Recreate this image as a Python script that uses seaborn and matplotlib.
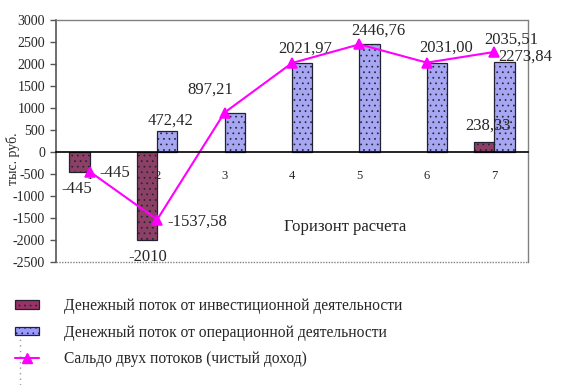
import numpy as np
import pandas as pd
import matplotlib
matplotlib.use("Agg")
import matplotlib.pyplot as plt
from matplotlib.patches import Patch
from matplotlib.lines import Line2D
import seaborn as sns

# ---------------- data ----------------
categories = ["1", "2", "3", "4", "5", "6", "7"]
invest = [-445, -2010, np.nan, np.nan, np.nan, np.nan, 238.33]
operating = [np.nan, 472.42, 897.21, 2021.97, 2446.76, 2031.00, 2035.51]
net = [-445, -1537.58, 897.21, 2021.97, 2446.76, 2031.00, 2273.84]

invest_labels = ["-445", "-2010", None, None, None, None, "238,33"]
operating_labels = [None, "472,42", None, None, None, None, "2035,51"]
net_labels = ["-445", "-1537,58", "897,21", "2021,97", "2446,76", "2031,00", "2273,84"]

series_names = ["Денежный поток от инвестиционной деятельности",
                "Денежный поток от операционной деятельности"]
line_name = "Сальдо двух потоков (чистый доход)"
x_title = "Горизонт расчета"
y_title = "тыс. руб."
y_ticks = list(range(-2500, 3001, 500))

# ---------------- style ----------------
c_inv = "#993366"
c_op = "#9999FF"
c_line = "#FF00FF"

sns.set_style("white")
plt.rcParams["font.family"] = ["Liberation Serif", "DejaVu Serif"]
plt.rcParams["axes.unicode_minus"] = False
plt.rcParams["hatch.linewidth"] = 0.5

df = pd.DataFrame({
    "cat": categories * 2,
    "value": invest + operating,
    "series": [series_names[0]] * len(categories) + [series_names[1]] * len(categories),
})

fig = plt.figure(figsize=(5.73, 3.85), dpi=100)
ax = fig.add_axes([56 / 573, 1 - 262 / 385, (528 - 56) / 573, (262 - 20) / 385])

sns.barplot(data=df, x="cat", y="value", hue="series", hue_order=series_names,
            order=categories, palette=[c_inv, c_op], width=0.6, dodge=True,
            edgecolor="#222233", linewidth=0.9, hatch="...", legend=False, ax=ax,
            errorbar=None)
sns.pointplot(x=categories, y=net, order=categories, color=c_line, marker="^",
              markersize=7, linewidth=1.5, errorbar=None, ax=ax)

ax.set_xlim(-0.5, len(categories) - 0.5)
ax.set_ylim(y_ticks[0], y_ticks[-1])
ax.set_yticks(y_ticks)
ax.set_yticklabels([str(v) for v in y_ticks])
ax.set_xlabel("")
ax.set_ylabel("")

# x axis at zero with boundary ticks, labels at category centers
ax.spines["bottom"].set_position(("data", 0))
ax.spines["bottom"].set_color("black")
ax.spines["bottom"].set_linewidth(1.2)
ax.set_xticks(np.arange(len(categories) + 1) - 0.5)
ax.set_xticklabels([])
ax.set_xticks(np.arange(len(categories)), minor=True)
ax.set_xticklabels(categories, minor=True)
ax.tick_params(axis="x", which="major", direction="inout", length=7, width=1, color="black")
ax.tick_params(axis="x", which="minor", length=0, pad=13, labelsize=9)
ax.tick_params(axis="y", direction="out", length=4, width=1, color="#555555",
               pad=4, labelsize=10, left=True)

ax.spines["left"].set_color("#555555")
ax.spines["left"].set_linewidth(1.2)
for s in ["top", "right"]:
    ax.spines[s].set_color("#808080")
    ax.spines[s].set_linestyle((0, (1, 1)))
    ax.spines[s].set_linewidth(1)
ax.plot([0, 1], [0, 0], transform=ax.transAxes, color="#808080",
        linestyle=(0, (1, 1)), linewidth=1, clip_on=False)

# data labels
inv_off = [(-3, -17), (1, -17), None, None, None, None, (4, 16)]
op_off = [None, (3, 11), None, None, None, None, (17, 12)]
net_off = [(25, -1), (40, -2), (-14, 23), (13, 14), (19, 14), (19, 15), (31, -5)]
bar_w = 0.3
for i in range(len(categories)):
    if invest_labels[i] is not None:
        ax.annotate(invest_labels[i], (i - bar_w / 2, invest[i]), textcoords="offset pixels",
                    xytext=inv_off[i], ha="center", va="center", fontsize=12)
    if operating_labels[i] is not None:
        if i == len(categories) - 1:
            ax.annotate(operating_labels[i], (i, net[i]), textcoords="offset pixels",
                        xytext=op_off[i], ha="center", va="center", fontsize=12)
        else:
            ax.annotate(operating_labels[i], (i + bar_w / 2, operating[i]), textcoords="offset pixels",
                        xytext=op_off[i], ha="center", va="center", fontsize=12)
    ax.annotate(net_labels[i], (i, net[i]), textcoords="offset pixels",
                xytext=net_off[i], ha="center", va="center", fontsize=12)

fig.text(345 / 573, 1 - 227 / 385, x_title, ha="center", va="center", fontsize=12)
fig.text(13 / 573, 1 - 159 / 385, y_title, ha="center", va="center", rotation=90, fontsize=10)

handles = [
    Patch(facecolor=c_inv, edgecolor="#222233", hatch="...", linewidth=0.9),
    Patch(facecolor=c_op, edgecolor="#222233", hatch="...", linewidth=0.9),
    Line2D([], [], color=c_line, marker="^", markersize=7, linewidth=1.5),
]
fig.legend(handles, series_names + [line_name], loc="upper left",
           bbox_to_anchor=(15 / 573, 1 - 298 / 385), frameon=False, fontsize=11.2,
           handlelength=1.55, handleheight=0.5, handletextpad=1.6, labelspacing=0.68,
           borderpad=0, borderaxespad=0, numpoints=1)

fig.lines.append(Line2D([20 / 573, 20 / 573], [0, 1 - 337 / 385], transform=fig.transFigure,
                        color="#999999", linestyle=(0, (1, 3)), linewidth=1))

fig.savefig("out.png", dpi=100)
